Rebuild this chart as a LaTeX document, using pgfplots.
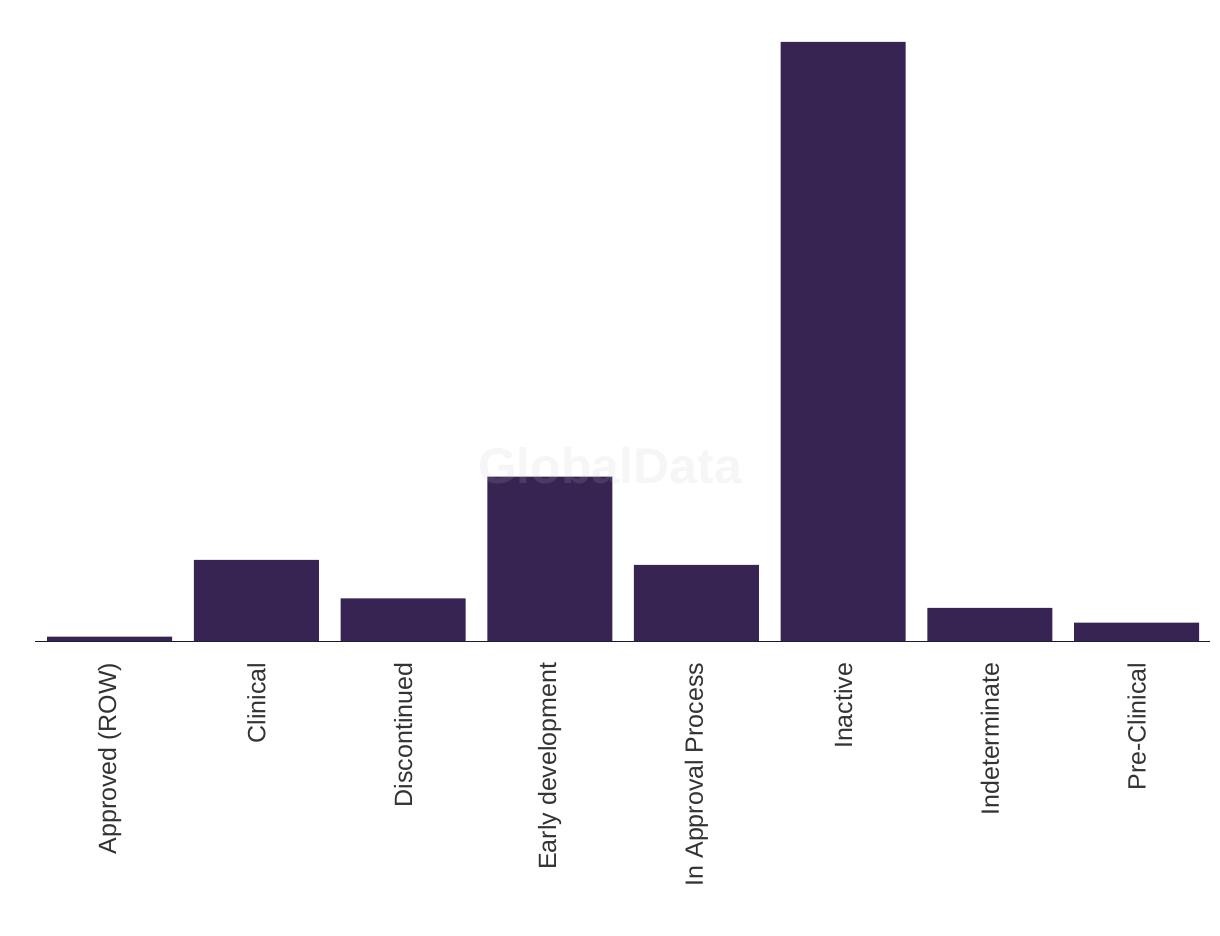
\documentclass[border=0pt]{standalone}
\usepackage{pgfplots}
\pgfplotsset{compat=1.18}
\usepackage{fontspec}
\setmainfont{Liberation Sans}
\definecolor{barc}{HTML}{372453}
\definecolor{axc}{HTML}{1A1A2A}
\definecolor{txc}{HTML}{333333}
\definecolor{wmc}{RGB}{193,193,193}
\begin{document}
\begin{tikzpicture}
\useasboundingbox (0,0) rectangle (1220pt,936pt);
\begin{axis}[
  at={(35pt,294.5pt)}, anchor=south west,
  scale only axis, width=1175pt, height=611.5pt,
  xmin=-0.509, xmax=7.501, ymin=0, ymax=611.5,
  axis x line=bottom, axis y line=none,
  axis line style={axc, line width=1.8pt, -},
  xtick=data,
  xticklabels={Approved (ROW),Clinical,Discontinued,Early development,In Approval Process,Inactive,Indeterminate,Pre-Clinical},
  major tick length=0pt,
  xticklabel style={rotate=90, anchor=east, inner sep=0pt, xshift=-21pt, text=txc, font=\fontsize{25}{28}\selectfont},
  ytick=\empty,
  clip=false,
]
\addplot[ybar, bar width=125pt, bar shift=0pt, fill=barc, draw=none] coordinates {
(0,4.8) (1,81.5) (2,43.2) (3,164.8) (4,76.5) (5,599.5) (6,33.5) (7,18.8)
};
\end{axis}
\node[font=\fontsize{50}{60}\selectfont\bfseries, text=wmc, opacity=0.15, inner sep=0pt] at (610pt,470pt) {GlobalData};
\end{tikzpicture}
\end{document}
